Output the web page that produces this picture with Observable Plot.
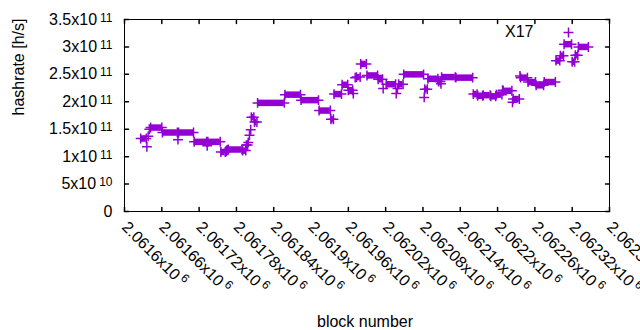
<!DOCTYPE html>
<html><head><meta charset="utf-8">
<script src="https://cdn.jsdelivr.net/npm/d3@7"></script>
<script src="https://cdn.jsdelivr.net/npm/@observablehq/plot@0.6"></script>
<style>body{margin:0;background:#fff}</style>
</head><body><div id="chart"></div>
<script>
// Run-length segments of per-block hashrate: [start block, end block, value]
const segStart = [2061626,2061636,2061638,2061640,2061642,2061661,2061686,2061687,2061712,2061733,2061734,2061755,2061763,2061765,2061767,2061790,2061796,2061799,2061801,2061803,2061804,2061809,2061814,2061858,2061884,2061913,2061932,2061937,2061950,2061960,2061968,2061971,2061973,2061980,2061990,2062008,2062016,2062021,2062037,2062039,2062041,2062049,2062082,2062083,2062088,2062105,2062109,2062110,2062133,2062161,2062168,2062177,2062189,2062198,2062208,2062209,2062224,2062225,2062236,2062237,2062249,2062262,2062275,2062294,2062301,2062307,2062320,2062325,2062330];
const segEnd   = [2061635,2061636,2061638,2061640,2061660,2061685,2061686,2061711,2061732,2061733,2061754,2061762,2061764,2061766,2061789,2061795,2061798,2061799,2061801,2061803,2061808,2061813,2061857,2061883,2061912,2061931,2061936,2061949,2061959,2061967,2061968,2061971,2061979,2061989,2062007,2062015,2062016,2062036,2062037,2062039,2062048,2062081,2062082,2062087,2062104,2062108,2062109,2062132,2062160,2062167,2062176,2062188,2062197,2062207,2062208,2062223,2062224,2062235,2062236,2062248,2062261,2062274,2062293,2062300,2062306,2062319,2062324,2062329,2062346];
const segValue = [1.33e11,1.18e11,1.37e11,1.50e11,1.53e11,1.44e11,1.31e11,1.44e11,1.27e11,1.20e11,1.27e11,1.085e11,1.10e11,1.12e11,1.13e11,1.11e11,1.21e11,1.26e11,1.39e11,1.49e11,1.72e11,1.63e11,1.98e11,2.13e11,2.03e11,1.84e11,1.68e11,2.14e11,2.31e11,2.21e11,2.15e11,2.44e11,2.45e11,2.69e11,2.48e11,2.41e11,2.24e11,2.32e11,2.15e11,2.24e11,2.32e11,2.50e11,2.08e11,2.23e11,2.42e11,2.37e11,2.33e11,2.45e11,2.44e11,2.14e11,2.11e11,2.12e11,2.10e11,2.13e11,2.21e11,2.20e11,1.99e11,2.05e11,2.47e11,2.44e11,2.36e11,2.30e11,2.36e11,2.75e11,2.84e11,3.05e11,2.73e11,2.85e11,3.00e11];

const xTicks = [2061600,2061660,2061720,2061780,2061840,2061900,2061960,2062020,2062080,2062140,2062200,2062260,2062320,2062380];
const xTickMain = ["2.0616x10","2.06166x10","2.06172x10","2.06178x10","2.06184x10","2.0619x10","2.06196x10","2.06202x10","2.06208x10","2.06214x10","2.0622x10","2.06226x10","2.06232x10","2.06238x10"];
const xTickExp = ["6","6","6","6","6","6","6","6","6","6","6","6","6","6"];
const yTicks = [0,5e10,1e11,1.5e11,2e11,2.5e11,3e11,3.5e11];
const yTickMain = ["0","5x10","1x10","1.5x10","2x10","2.5x10","3x10","3.5x10"];
const yTickExp = ["","10","11","11","11","11","11","11"];
const legendLabels = ["X17"];
const xLabel = "block number";
const yLabel = "hashrate [h/s]";

const color = "#9400d3";
const font = "Liberation Sans, Arial, sans-serif";
const xDomain = [2061600, 2062380];
const yDomain = [0, 3.5e11];

const segs = segStart.map((s, i) => ({start: s, end: segEnd[i], value: segValue[i]}));
const pts = segs.flatMap(d => d.start === d.end ? [{b: d.start, v: d.value}] : [{b: d.start, v: d.value}, {b: d.end, v: d.value}]);

const tickShape = {draw(ctx, l) { ctx.moveTo(0, 0); ctx.lineTo(0, -l); }};

const svg = Plot.plot({
  width: 640, height: 330,
  marginLeft: 124, marginRight: 31, marginTop: 19, marginBottom: 119,
  x: {domain: xDomain, axis: null},
  y: {domain: yDomain, axis: null},
  style: {fontFamily: font, background: "white"},
  marks: [
    Plot.ruleY(segs, {x1: "start", x2: "end", y: "value", stroke: color, strokeWidth: 6.5}),
    Plot.dot(pts, {x: "b", y: "v", symbol: "plus", r: 3.3, stroke: color, strokeWidth: 1.5}),
    Plot.frame({stroke: "black", strokeWidth: 1}),
    Plot.vector(xTicks, {x: d => d, y: yDomain[0], length: 4, rotate: 0, anchor: "start", shape: tickShape, stroke: "black"}),
    Plot.vector(xTicks, {x: d => d, y: yDomain[1], length: 4, rotate: 180, anchor: "start", shape: tickShape, stroke: "black"}),
    Plot.vector(yTicks, {x: xDomain[0], y: d => d, length: 4, rotate: 90, anchor: "start", shape: tickShape, stroke: "black"}),
    Plot.vector(yTicks, {x: xDomain[1], y: d => d, length: 4, rotate: -90, anchor: "start", shape: tickShape, stroke: "black"}),
    Plot.text(yTicks, {y: d => d, text: (d, i) => yTickMain[i], frameAnchor: "left", dx: -12, textAnchor: "end", lineAnchor: "middle", fontSize: 16, fontFamily: font, fill: "black"}),
    Plot.text(xTicks, {x: d => d, text: (d, i) => xTickMain[i], frameAnchor: "bottom", dy: 13, rotate: 45, textAnchor: "start", lineAnchor: "middle", fontSize: 16, fontFamily: font, fill: "black"}),
    Plot.text([xLabel], {frameAnchor: "bottom", dx: -2, dy: 110, lineAnchor: "middle", fontSize: 16, fontFamily: font, fill: "black"}),
    Plot.text([yLabel], {frameAnchor: "left", dx: -106, rotate: -90, lineAnchor: "middle", fontSize: 16, fontFamily: font, fill: "black"}),
    Plot.text(legendLabels, {frameAnchor: "top-right", dx: -76, dy: 12.6, textAnchor: "end", lineAnchor: "middle", fontSize: 16, fontFamily: font, fill: "black"}),
    Plot.dot(legendLabels, {frameAnchor: "top-right", dx: -41, dy: 13, symbol: "plus", r: 3.3, stroke: color, strokeWidth: 1.5})
  ]
});

// add superscript exponents as real tspans
d3.select(svg).selectAll("text").each(function() {
  const t = this.textContent;
  const xi = xTickMain.indexOf(t);
  const yi = yTickMain.indexOf(t);
  if (xi >= 0 && xTickExp[xi]) {
    d3.select(this).append("tspan").attr("dx", 3).attr("dy", -6).attr("font-size", 12).text(xTickExp[xi]);
  } else if (yi >= 0 && yTickExp[yi]) {
    d3.select(this).append("tspan").attr("dx", 3).attr("dy", -3).attr("font-size", 12).text(yTickExp[yi]);
  }
});

document.getElementById("chart").appendChild(svg);
</script>
</body></html>
